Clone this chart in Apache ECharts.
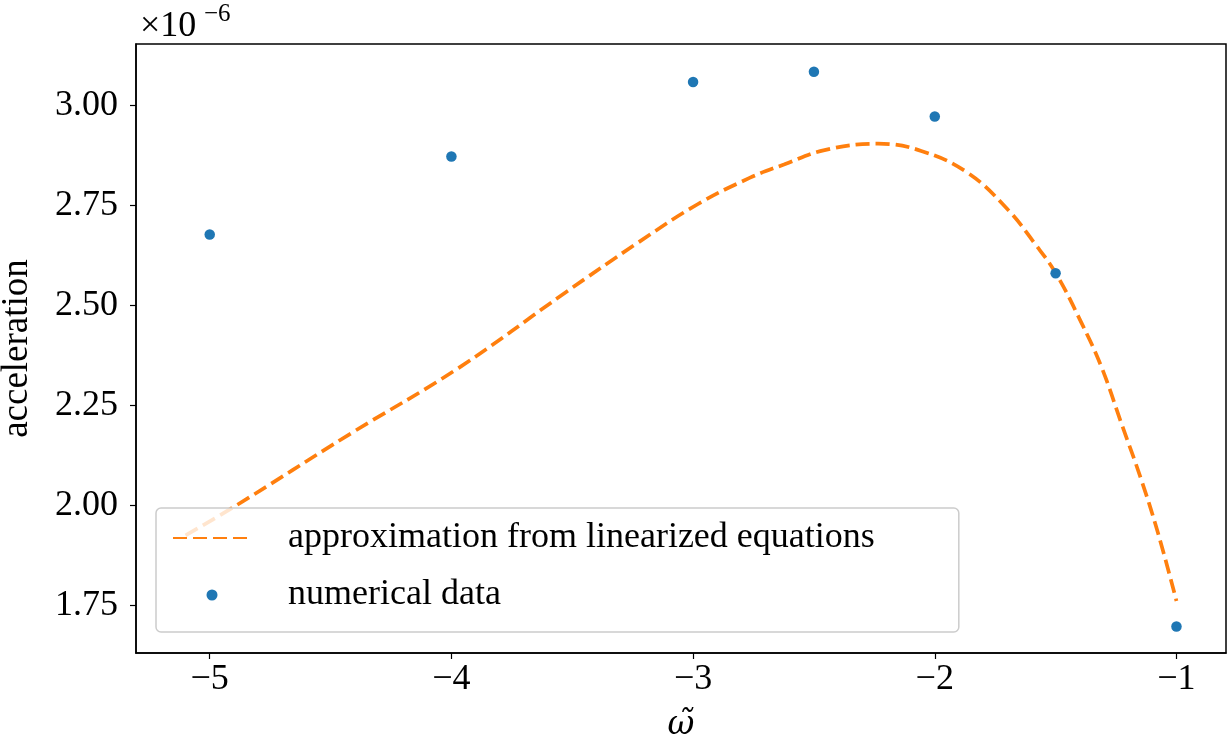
<!DOCTYPE html>
<html>
<head>
<meta charset="utf-8">
<script src="https://cdn.jsdelivr.net/npm/echarts@6/dist/echarts.min.js"></script>
<style>html,body{margin:0;padding:0;background:#fff;}#c{width:1230px;height:742px;}</style>
</head>
<body>
<div id="c"></div>
<script>
// values in units of 1e-6
const approxX = [-5.1, -4.9, -4.415, -3.971, -3.528, -3.232, -2.983, -2.764, -2.624, -2.456, -2.235, -2.056, -1.863, -1.697, -1.587, -1.5, -1.393, -1.311, -1.228, -1.145, -1.076, -1.0];
const approxY = [1.925, 1.996, 2.180, 2.343, 2.532, 2.655, 2.752, 2.819, 2.852, 2.888, 2.904, 2.886, 2.831, 2.739, 2.655, 2.581, 2.456, 2.347, 2.205, 2.063, 1.930, 1.761];
const numX = [-5, -4, -3, -2.5, -2, -1.5, -1];
const numY = [2.677, 2.872, 3.058, 3.084, 2.972, 2.580, 1.697];
const xTicks = [-5, -4, -3, -2, -1];
const yTicks = [1.75, 2.00, 2.25, 2.50, 2.75, 3.00];
const seriesNames = ['approximation from linearized equations', 'numerical data'];

const FONT = '"Liberation Serif", "DejaVu Serif", serif';
const chart = echarts.init(document.getElementById('c'), null, {renderer: 'canvas'});
const fmtMinus = v => String(v).replace('-', '\u2212');
chart.setOption({
  animation: false,
  grid: {left: 136, right: 4, top: 44, bottom: 89, containLabel: false, outerBoundsMode: 'none',
         show: true, borderColor: '#000', borderWidth: 1.5, backgroundColor: 'transparent'},
  xAxis: {
    type: 'value', min: -5.305, max: -0.795,
    axisLine: {show: true, onZero: false, lineStyle: {color: '#000', width: 1.5}},
    axisTick: {show: true, inside: false, length: 6, lineStyle: {color: '#000', width: 1.2}, customValues: xTicks},
    axisLabel: {color: '#000', fontFamily: FONT, fontSize: 36, margin: 9, customValues: xTicks, formatter: v => fmtMinus(v)},
    splitLine: {show: false},
    name: '\u03C9\u0303', nameLocation: 'middle', nameGap: 56,
    nameTextStyle: {color: '#000', fontFamily: '"DejaVu Serif", serif', fontSize: 33, fontStyle: 'italic'}
  },
  yAxis: {
    type: 'value', min: 1.6308, max: 3.1532,
    axisLine: {show: true, onZero: false, lineStyle: {color: '#000', width: 1.5}},
    axisTick: {show: true, inside: false, length: 6, lineStyle: {color: '#000', width: 1.2}, customValues: yTicks},
    axisLabel: {color: '#000', fontFamily: FONT, fontSize: 36, margin: 18, customValues: yTicks, formatter: v => v.toFixed(2)},
    splitLine: {show: false},
    name: 'acceleration', nameLocation: 'middle', nameGap: 100,
    nameTextStyle: {color: '#000', fontFamily: FONT, fontSize: 37}
  },
  legend: {
    orient: 'vertical', left: 156, top: 508,
    padding: [10, 84, 17, 16],
    itemWidth: 78, itemHeight: 11, itemGap: 17,
    backgroundColor: 'rgba(255,255,255,0.8)', borderColor: '#cccccc', borderWidth: 1.5, borderRadius: 5,
    textStyle: {color: '#000', fontFamily: FONT, fontSize: 36, padding: [0, 0, 0, 32], lineHeight: 40},
    data: [{name: seriesNames[0], itemStyle: {opacity: 0}}, {name: seriesNames[1], icon: 'circle'}]
  },
  series: [
    {
      name: seriesNames[0], type: 'line', smooth: 0.4, showSymbol: false, symbol: 'none',
      data: approxX.map((x, i) => [x, approxY[i]]),
      lineStyle: {color: '#ff7f0e', width: 3.7, type: [14, 6]},
      itemStyle: {color: '#ff7f0e'}, z: 2
    },
    {
      name: seriesNames[1], type: 'scatter', symbol: 'circle', symbolSize: 10.5,
      data: numX.map((x, i) => [x, numY[i]]),
      itemStyle: {color: '#1f77b4', opacity: 1}, z: 3
    }
  ],
  graphic: [
    {type: 'text', x: 140, y: 27, style: {text: '\u00D710', fontFamily: FONT, fontSize: 36, fill: '#000', verticalAlign: 'middle', align: 'left'}},
    {type: 'text', x: 204, y: 14, style: {text: '\u22126', fontFamily: FONT, fontSize: 25, fill: '#000', verticalAlign: 'middle', align: 'left'}}
  ]
});
</script>
</body>
</html>
